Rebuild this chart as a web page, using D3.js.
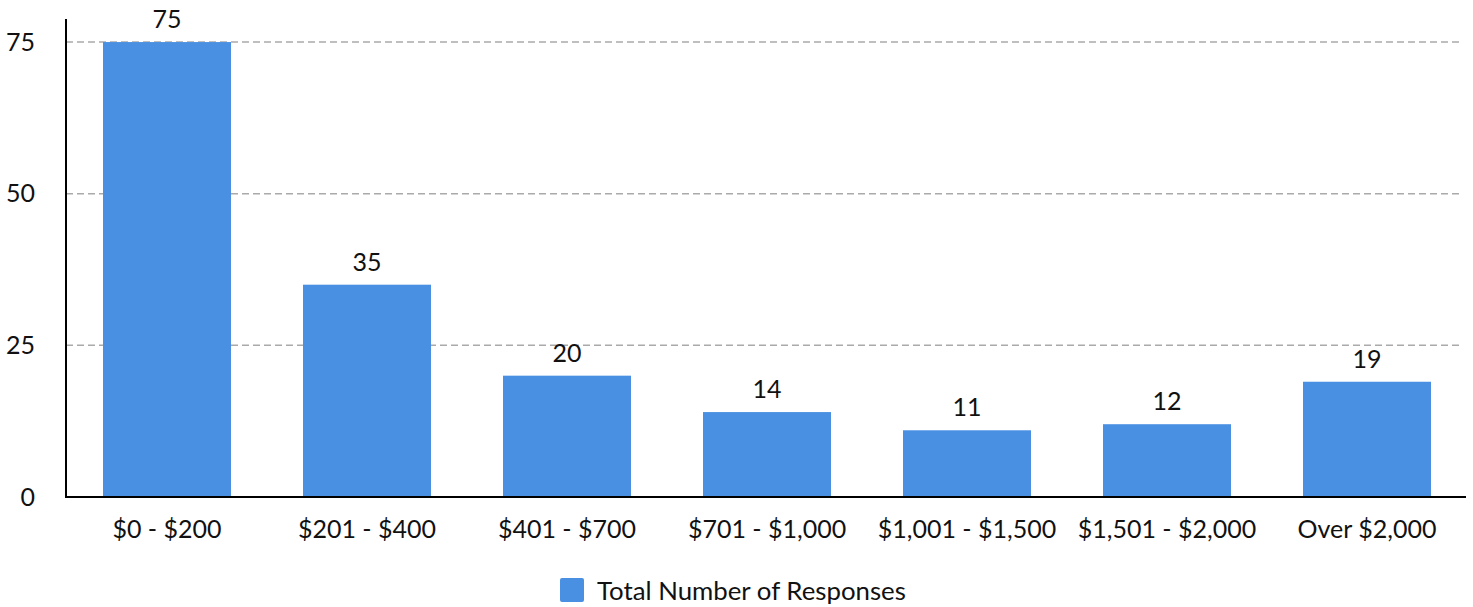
<!DOCTYPE html>
<html><head><meta charset="utf-8">
<script src="https://cdn.jsdelivr.net/npm/d3@7"></script>
<style>body{margin:0;background:#fff;font-family:Lato,sans-serif;}</style>
</head><body><svg id="c" width="1473" height="607"></svg>
<script>
const categories = ["$0 - $200","$201 - $400","$401 - $700","$701 - $1,000","$1,001 - $1,500","$1,501 - $2,000","Over $2,000"];
const values = [75,35,20,14,11,12,19];
const yTicks = [0,25,50,75];
const seriesName = "Total Number of Responses";

const svg = d3.select("#c");
const mLeft = 66, mRight = 1466, mTop = 19, mBottom = 497;
const x = d3.scaleBand().domain(categories).range([mLeft + 1, mRight + 1]).paddingInner(0.36).paddingOuter(0.18);
const y = d3.scaleLinear().domain([0, 78.8]).range([mBottom, mTop]);
const color = "#4a90e2";
const fs = 25;

// gridlines
svg.append("g").selectAll("line").data(yTicks.filter(d=>d>0)).join("line")
  .attr("x1", mLeft).attr("x2", 1463).attr("y1", d=>y(d)).attr("y2", d=>y(d))
  .attr("stroke", "#aaaaaa").attr("stroke-width", 1.5).attr("stroke-dasharray", "7,4");

// bars
svg.append("g").selectAll("rect").data(values).join("rect")
  .attr("x", (d,i)=>x(categories[i])).attr("width", x.bandwidth())
  .attr("y", d=>y(d)).attr("height", d=>mBottom - y(d)).attr("fill", color);

// value labels
svg.append("g").selectAll("text").data(values).join("text")
  .attr("x", (d,i)=>x(categories[i]) + x.bandwidth()/2).attr("y", d=>y(d) - 14)
  .attr("text-anchor","middle").attr("font-size", fs).attr("fill","#111").text(d=>d);

// y axis
const yAxis = svg.append("g").attr("transform", `translate(${mLeft},0)`)
  .call(d3.axisLeft(y).tickValues(yTicks).tickSize(0).tickPadding(31));
yAxis.select(".domain").remove();
yAxis.selectAll("text").attr("font-family","Lato").attr("font-size",fs).attr("fill","#111");
svg.append("line").attr("x1", mLeft).attr("x2", mLeft).attr("y1", mTop).attr("y2", mBottom+1)
  .attr("stroke","#000").attr("stroke-width",2);

// x axis
const xAxis = svg.append("g").attr("transform", `translate(0,${mBottom})`)
  .call(d3.axisBottom(x).tickSize(0).tickPadding(23));
xAxis.select(".domain").attr("stroke","#000").attr("stroke-width",2).attr("d", `M${mLeft-1},0H${mRight}`);
xAxis.selectAll("text").attr("font-family","Lato").attr("font-size",fs).attr("fill","#111");

// legend
const lg = svg.append("g").attr("transform","translate(560,578)");
lg.append("rect").attr("width",24).attr("height",24).attr("rx",2).attr("fill",color);
lg.append("text").attr("x",37).attr("y",22).attr("font-size",25.8).attr("fill","#111").text(seriesName);
</script></body></html>
